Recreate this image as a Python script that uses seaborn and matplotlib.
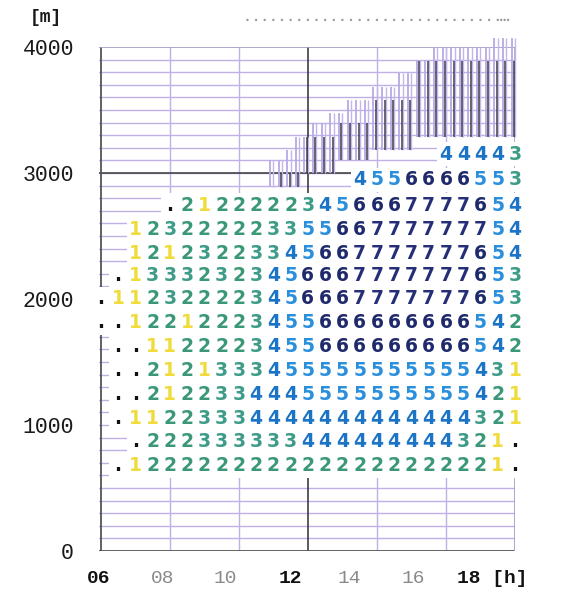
import numpy as np
import pandas as pd
import matplotlib
matplotlib.use("Agg")
import matplotlib.pyplot as plt
import seaborn as sns

# ---------------- data ----------------
HOURS = [6.0, 6.5, 7.0, 7.5, 8.0, 8.5, 9.0, 9.5, 10.0, 10.5, 11.0, 11.5, 12.0,
         12.5, 13.0, 13.5, 14.0, 14.5, 15.0, 15.5, 16.0, 16.5, 17.0, 17.5, 18.0]

ROW_HEIGHTS = [3150, 2945, 2740, 2555, 2365, 2185, 2000, 1810, 1620, 1430,
               1240, 1055, 870, 675]

ROWS = [
    "                    44443",
    "               4556666553",
    "    .21222223456667777654",
    "  12322222335566777777754",
    "  12123223345667777777654",
    " .13332323456667777777653",
    ".112322223456667777777653",
    "..12212223455666666666542",
    " ..1122223455666666666542",
    " ..2121333455555555555431",
    " ..2122334445555555555421",
    " .11223334444444444444321",
    "  .222333333444444444321.",
    " .1222222222222222222221.",
]

HATCH_TIMES = [11.0, 11.25, 11.5, 11.75, 12.0, 12.25, 12.5, 12.75, 13.0, 13.25,
               13.5, 13.75, 14.0, 14.25, 14.5, 14.75, 15.0, 15.25, 15.5, 15.75,
               16.0, 16.25, 16.5, 16.75, 17.0, 17.25, 17.5, 17.75, 18.0]
LIGHT_TOP = [3100, 3100, 3180, 3285, 3285, 3395, 3395, 3480, 3480, 3580,
             3580, 3580, 3680, 3680, 3680, 3790, 3790, 3900, 3900, 4000,
             4000, 4000, 4000, 4000, 4000, 4000, 4070, 4070, 4070]
DARK_TOP = [np.nan, 3000, 3000, 3000, 3285, 3285, 3285, 3285, 3395, 3395,
            3395, 3395, 3580, 3580, 3580, 3580, 3580, 3890, 3890, 3890,
            3890, 3890, 3890, 3890, 3890, 3890, 3890, 3890, 3890]
DARK_BASE = [2890, 2890, 2890, 2890, 3000, 3000, 3000, 3000, 3100, 3100,
             3100, 3100, 3180, 3180, 3180, 3180, 3180, 3285, 3285, 3285,
             3285, 3285, 3285, 3285, 3285, 3285, 3285, 3285, 3285]

TOP_DOT_TIMES = [10.25, 10.5, 10.75, 11.0, 11.25, 11.5, 11.75, 12.0, 12.25, 12.5,
                 12.75, 13.0, 13.25, 13.5, 13.75, 14.0, 14.25, 14.5, 14.75, 15.0,
                 15.25, 15.5, 15.75, 16.0, 16.25, 16.5, 16.75, 17.0, 17.25, 17.5,
                 17.6, 17.7, 17.8]
TOP_DOT_HEIGHT = 4215

Y_TICKS = [0, 1000, 2000, 3000, 4000]
Y_LABELS = ["0", "1000", "2000", "3000", "4000"]
X_LABELS = ["06", "08", "10", "12", "14", "16", "18 [h]"]
X_LABEL_POS = [5.95, 7.8, 9.6, 11.5, 13.2, 15.05, 17.35]
X_LABEL_STRONG = [True, False, False, True, False, False, True]

DIGIT_COLORS = {
    ".": "#111111",
    "1": "#efdc3c",
    "2": "#3a9878",
    "3": "#3e9c88",
    "4": "#1c74c6",
    "5": "#2a8fdc",
    "6": "#1f2a6c",
    "7": "#242f78",
}

# ---------------- figure ----------------
sns.set_style("white")
plt.rcParams["font.family"] = ["DejaVu Sans"]

fig = plt.figure(figsize=(5.85, 5.94), dpi=100)
ax = fig.add_axes([99 / 585, 1 - 551 / 594, 416 / 585, 504 / 594])
ax.set_xlim(6, 18)
ax.set_ylim(0, 4000)
for s in ax.spines.values():
    s.set_visible(False)

grid_c = "#bfb1e6"
# horizontal grid every 100 m
for yv in np.arange(100, 4000, 100):
    ax.axhline(yv, color=grid_c, lw=1.0, zorder=1)
for xv in [8, 10, 14, 16]:
    ax.axvline(xv, color=grid_c, lw=1.0, zorder=1)
ax.axhline(3000, color="#3a3a3a", lw=1.1, zorder=1.2)
ax.axvline(12, color="#2e2e2e", lw=1.1, zorder=1.2)
# frame
ax.axvline(6, color="#555555", lw=1.3, zorder=1.2)
ax.axhline(0, color="#555555", lw=1.3, zorder=1.2)
ax.axhline(4000, color="#a39ac4", lw=1.2, zorder=1.2)
ax.axvline(18, color="#a39ac4", lw=1.2, zorder=1.2)

# hatch (light + dark vertical strokes)
hatch = pd.DataFrame({"t": HATCH_TIMES, "ltop": LIGHT_TOP,
                      "dtop": DARK_TOP, "dbase": DARK_BASE})
ax.vlines(hatch["t"] - 0.1, hatch["dbase"], hatch["ltop"], color="#b9a8e6",
          lw=1.3, zorder=1.5, clip_on=False)
ax.vlines(hatch["t"], hatch["dbase"], hatch["ltop"], color="#c4b6ea",
          lw=1.0, zorder=1.5, clip_on=False)
dk = hatch.dropna()
ax.vlines(dk["t"] - 0.03, dk["dbase"], dk["dtop"], color="#3c3c4a",
          lw=1.1, zorder=1.6)

# digit cells
cells = []
for yh, row in zip(ROW_HEIGHTS, ROWS):
    for hr, ch in zip(HOURS, row):
        if ch != " ":
            cells.append((hr, yh, ch))
cells = pd.DataFrame(cells, columns=["hour", "height", "val"])

ax.bar(cells["hour"], 196, bottom=cells["height"] - 98, width=0.5,
       color="white", edgecolor="none", zorder=2, clip_on=False)
for _, r in cells.iterrows():
    ax.text(r["hour"], r["height"], r["val"], ha="center", va="center",
            fontsize=13.5, fontweight="bold", color=DIGIT_COLORS[r["val"]],
            family="DejaVu Sans", zorder=4)

# faint dotted row above the chart
sns.scatterplot(x=TOP_DOT_TIMES, y=[TOP_DOT_HEIGHT] * len(TOP_DOT_TIMES), ax=ax,
                s=3, color="#9a9a9a", edgecolor="none", clip_on=False, zorder=3,
                legend=False)

# axes labels
ax.set_yticks(Y_TICKS)
ax.set_yticklabels(Y_LABELS, family="Liberation Mono", fontsize=15.5,
                   color="#1a1a1a")
ax.tick_params(axis="y", length=0, pad=18)
ax.set_xticks(X_LABEL_POS)
ax.set_xticklabels(X_LABELS, family="Liberation Mono", fontsize=14)
ax.tick_params(axis="x", length=0, pad=14)
for lab, strong in zip(ax.get_xticklabels(), X_LABEL_STRONG):
    lab.set_color("#111111" if strong else "#8a8a8a")
    lab.set_fontweight("bold" if strong else "normal")
ax.set_xlabel("")
ax.set_ylabel("")

fig.text(46 / 585, 1 - 18 / 594, "[m]", ha="center", va="center",
         family="Liberation Mono", fontweight="bold", fontsize=13,
         color="#1a1a1a")

fig.savefig("out.png", dpi=100)
